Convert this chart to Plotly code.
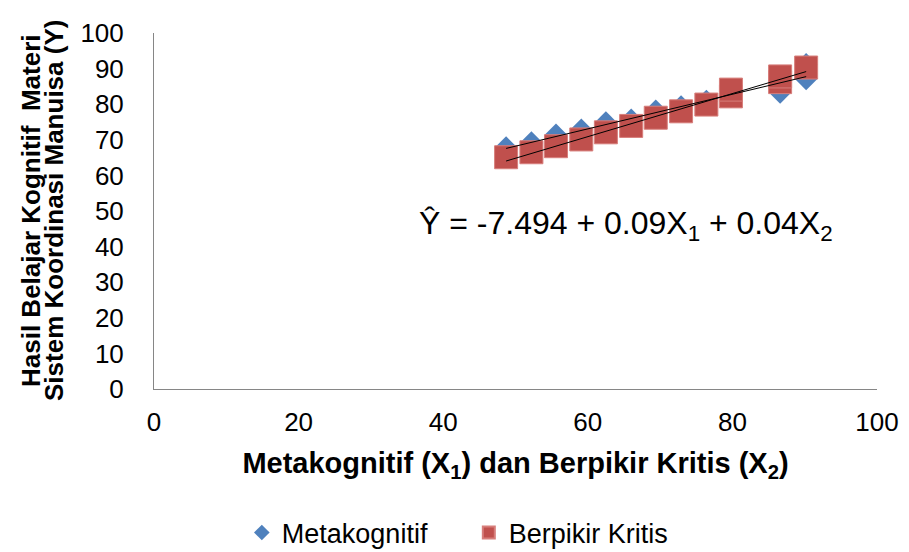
import numpy as np
import plotly.graph_objects as go

# Data
x_meta = [48.7, 52.2, 55.6, 59.1, 62.5, 66.0, 69.4, 72.9, 76.4, 79.8, 86.6, 90.2, 90.2]
y_meta = [67.7, 69.1, 71.3, 72.7, 74.7, 75.5, 78.0, 79.2, 80.8, 82.2, 83.4, 87.2, 91.1]
x_krit = [48.7, 52.2, 55.6, 59.1, 62.5, 66.0, 69.4, 72.9, 76.4, 79.8, 79.8, 86.6, 86.6, 90.2]
y_krit = [65.1, 66.5, 68.2, 70.1, 72.1, 73.9, 76.2, 78.0, 79.9, 82.2, 84.1, 86.2, 87.8, 90.3]
series_names = ["Metakognitif", "Berpikir Kritis"]
axis_ticks = [0, 20, 40, 60, 80, 100]
y_ticks = [0, 10, 20, 30, 40, 50, 60, 70, 80, 90, 100]
equation = "Ŷ = -7.494 + 0.09X<sub>1</sub> + 0.04X<sub>2</sub>"
x_title = "Metakognitif (X<sub>1</sub>) dan Berpikir Kritis (X<sub>2</sub>)"
y_title_lines = ["Hasil Belajar Kognitif  Materi", "Sistem Koordinasi Manuisa (Y)"]

BLUE = "#4F81BD"
RED = "#C0504D"
FONT = "Liberation Sans, Arial, sans-serif"

# page body adds an 8px margin, so the figure is 8px smaller than the window
W, H = 901, 544
L, R, T, B = 146, 32, 25, 163
PW = W - L - R

fig = go.Figure()
fig.add_trace(go.Scatter(x=x_meta, y=y_meta, mode="markers", name=series_names[0],
                         marker=dict(symbol="diamond", size=18, color=BLUE, line=dict(width=0))))
fig.add_trace(go.Scatter(x=x_krit, y=y_krit, mode="markers", name=series_names[1],
                         marker=dict(symbol="square", size=23, color=RED,
                                     line=dict(width=1, color="#D77E7B"))))

for xs, ys in ((x_meta, y_meta), (x_krit, y_krit)):
    b, a = np.polyfit(xs, ys, 1)
    xl = np.array([min(xs), max(xs)])
    fig.add_trace(go.Scatter(x=xl, y=a + b * xl, mode="lines", showlegend=False,
                             line=dict(color="black", width=1), hoverinfo="skip"))

fig.update_layout(
    width=W, height=H,
    margin=dict(l=L, r=R, t=T, b=B),
    paper_bgcolor="white", plot_bgcolor="white",
    font=dict(family=FONT, color="black", size=26),
    showlegend=True,
    legend=dict(orientation="h", xref="container", yref="container",
                x=0.2595, xanchor="left", y=1 - 525 / H, yanchor="middle",
                font=dict(size=27), itemsizing="constant", traceorder="normal",
                itemwidth=30, entrywidth=182, entrywidthmode="pixels"),
)
fig.update_xaxes(range=[0, 100], tickvals=axis_ticks, showgrid=False, zeroline=False,
                 showline=True, linecolor="#868686", linewidth=1, ticks="",
                 automargin=False, tickfont=dict(size=26), ticklabelstandoff=10,
                 title=dict(text="<b>" + x_title + "</b>", font=dict(size=29, family=FONT),
                            standoff=16))
fig.update_yaxes(range=[0, 100], tickvals=y_ticks, showgrid=False, zeroline=False,
                 showline=True, linecolor="#868686", linewidth=1, ticks="",
                 automargin=False, tickfont=dict(size=26), ticklabelstandoff=24)

fig.add_annotation(text=equation, xref="paper", yref="paper", x=0.6525, y=0.46,
                   xanchor="center", yanchor="middle", showarrow=False,
                   font=dict(size=32, family=FONT))
for line, px in zip(y_title_lines, [23, 46]):
    fig.add_annotation(text="<b>" + line + "</b>", xref="paper", yref="paper",
                       x=(px - L) / PW, y=0.5, xanchor="center", yanchor="middle",
                       textangle=-90, showarrow=False, font=dict(size=26, family=FONT))

fig.write_html("out.html")
